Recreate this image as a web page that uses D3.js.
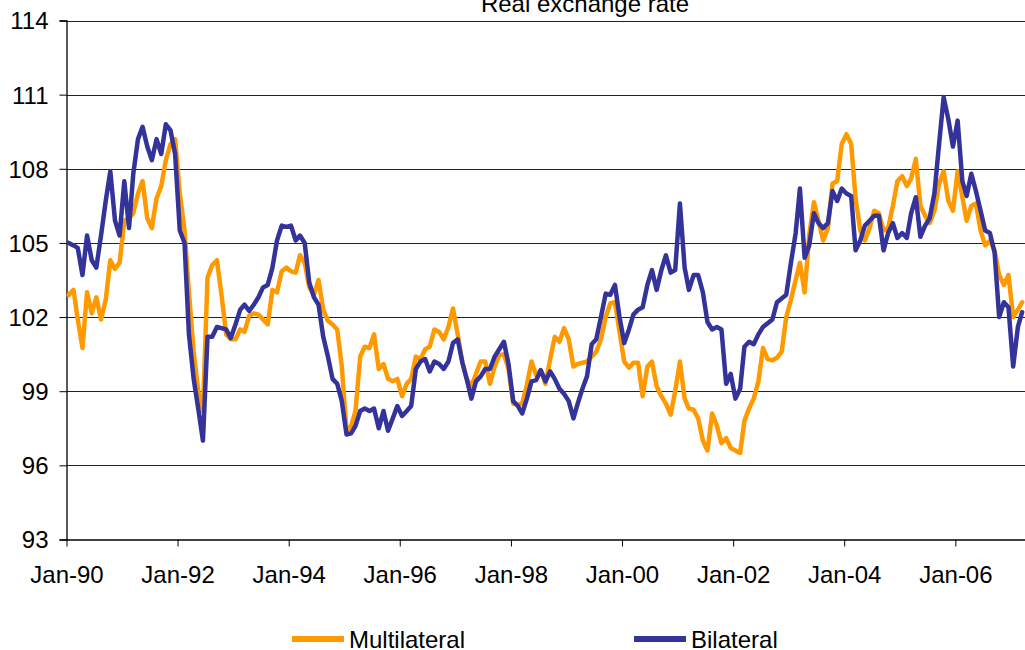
<!DOCTYPE html>
<html>
<head>
<meta charset="utf-8">
<script src="https://cdn.jsdelivr.net/npm/d3@7/dist/d3.min.js"></script>
<style>
  html, body { margin: 0; padding: 0; background: #fff; }
  svg { display: block; font-family: "Liberation Sans", Arial, sans-serif; }
</style>
</head>
<body>
<svg id="chart" width="1025" height="650"></svg>
<script>
// ---- Data (monthly, Jan-1990 onwards) ----
const startYear = 1990;
const title = "Real exchange rate";
const seriesNames = ["Multilateral", "Bilateral"];
const seriesColors = ["#FF9900", "#333399"];
const yTickValues = [93, 96, 99, 102, 105, 108, 111, 114];
const xTickYears = [1990, 1992, 1994, 1996, 1998, 2000, 2002, 2004, 2006];

const multilateral = [
  102.9, 103.1, 101.9, 100.75, 103.0, 102.15, 102.8, 101.9, 102.7, 104.3, 103.95, 104.2,
  105.9, 106.0, 106.2, 107.0, 107.5, 106.0, 105.6, 106.8, 107.3, 108.35, 109.0, 109.2,
  107.0, 105.5, 103.0, 100.6, 99.0, 98.2, 103.6, 104.1, 104.3, 102.9, 101.3, 101.1,
  101.1, 101.5, 101.4, 102.05, 102.15, 102.1, 101.9, 101.7, 103.1, 103.0, 103.85, 104.0,
  103.85, 103.8, 104.5, 104.2, 103.2, 102.9, 103.5, 102.3, 101.85, 101.7, 101.5, 100.0,
  97.4, 97.6, 98.2, 100.4, 100.8, 100.75, 101.3, 99.9, 100.1, 99.5, 99.4, 99.5,
  98.8, 99.3, 99.5, 100.4, 100.3, 100.7, 100.8, 101.5, 101.4, 101.1, 101.6, 102.35,
  101.3, 100.15, 99.5, 99.2, 99.7, 100.2, 100.2, 99.3, 100.0, 100.45, 100.5, 99.9,
  98.5, 98.45, 98.5, 99.25, 100.2, 99.65, 99.85, 99.3, 100.3, 101.2, 101.0, 101.55,
  101.1, 100.0, 100.1, 100.15, 100.2, 100.4, 100.6, 101.1, 102.0, 102.55, 102.6, 101.4,
  100.2, 99.95, 100.15, 100.15, 98.8, 100.0, 100.2, 99.2, 98.8, 98.5, 98.05, 99.0,
  100.2, 98.7, 98.3, 98.25, 97.9, 97.0, 96.6, 98.1, 97.6, 96.9, 97.1, 96.7,
  96.6, 96.5, 97.8, 98.3, 98.7, 99.4, 100.75, 100.3, 100.25, 100.35, 100.6, 102.0,
  102.7, 103.5, 104.2, 103.0, 105.3, 106.65, 105.9, 105.1, 105.6, 107.4, 107.5, 109.0,
  109.4, 109.0, 106.8, 105.5, 105.1, 105.6, 106.3, 106.2, 105.5, 105.6, 106.5, 107.5,
  107.7, 107.3, 107.6, 108.4, 106.5, 106.1, 105.8, 106.3, 107.4, 107.9, 106.7, 106.3,
  107.9, 106.85, 105.9, 106.5, 106.6, 105.5, 104.9, 105.1, 104.7, 103.7, 103.3, 103.7,
  102.0, 102.3, 102.6
];

const bilateral = [
  105.0, 104.9, 104.8, 103.7, 105.3, 104.3, 104.0, 105.3, 106.7, 107.9, 105.9, 105.3,
  107.5, 105.6, 107.8, 109.2, 109.7, 108.9, 108.35, 109.2, 108.6, 109.8, 109.55, 108.6,
  105.5, 105.0, 101.3, 99.5, 98.3, 97.0, 101.2, 101.2, 101.6, 101.55, 101.5, 101.15,
  101.7, 102.3, 102.5, 102.25, 102.5, 102.8, 103.2, 103.3, 104.0, 105.1, 105.7, 105.65,
  105.7, 105.1, 105.3, 105.0, 103.4, 102.8, 102.5, 101.2, 100.4, 99.5, 99.3, 98.6,
  97.25, 97.3, 97.6, 98.2, 98.3, 98.2, 98.3, 97.5, 98.2, 97.4, 97.9, 98.4,
  98.0, 98.2, 98.4, 99.9, 100.2, 100.3, 99.8, 100.2, 100.1, 99.9, 100.2, 100.95,
  101.1, 100.15, 99.5, 98.7, 99.4, 99.6, 99.9, 99.9, 100.4, 100.7, 101.0, 100.1,
  98.6, 98.4, 98.1, 98.7, 99.4, 99.45, 99.85, 99.4, 99.8, 99.5, 99.1, 98.9,
  98.6, 97.9, 98.5, 99.1, 99.6, 100.9, 101.1, 102.0, 102.95, 102.9, 103.3, 102.0,
  100.95, 101.5, 102.1, 102.3, 102.4, 103.3, 103.9, 103.1, 103.9, 104.5, 103.8, 103.9,
  106.6, 104.0, 103.1, 103.7, 103.7, 103.0, 101.8, 101.5, 101.6, 101.5, 99.3, 99.7,
  98.7, 99.1, 100.8, 101.0, 100.9, 101.3, 101.6, 101.75, 101.9, 102.6, 102.75, 102.9,
  104.2, 105.4, 107.2, 104.4, 104.9, 106.2, 105.8, 105.6, 105.8, 107.1, 106.7, 107.2,
  107.0, 106.9, 104.7, 105.1, 105.7, 105.9, 106.1, 106.1, 104.7, 105.4, 105.8, 105.2,
  105.4, 105.2, 106.2, 106.85, 105.25, 105.7, 106.0, 107.0, 109.0, 110.9, 110.0, 108.9,
  109.95, 107.5, 106.9, 107.8, 107.1, 106.3, 105.5, 105.4, 104.6, 102.0, 102.6, 102.4,
  100.0, 101.6, 102.2
];

// ---- Chart ----
(function () {
  const svg = d3.select("#chart");
  const W = 1025, H = 650;
  const plotLeft = 66.5, plotTop = 20.5, plotBottom = 539.5;

  svg.append("rect").attr("width", W).attr("height", H).attr("fill", "#fff");

  const months = d3.range(multilateral.length).map(i => new Date(startYear, i, 16));

  const x = d3.scaleTime()
    .domain([new Date(startYear, 0, 1), new Date(2008, 0, 1)])
    .range([plotLeft, plotLeft + 9 * 111.1]);

  const y = d3.scaleLinear().domain([93, 114]).range([plotBottom, plotTop]);

  // gridlines
  svg.append("g")
    .selectAll("line")
    .data(yTickValues.filter(v => v > 93))
    .join("line")
    .attr("x1", plotLeft).attr("x2", W)
    .attr("y1", d => Math.round(y(d)) + 0.5).attr("y2", d => Math.round(y(d)) + 0.5)
    .attr("stroke", "#222").attr("stroke-width", 1);

  // y axis
  const yAxis = svg.append("g")
    .attr("transform", `translate(${plotLeft},0)`)
    .call(d3.axisLeft(y).tickValues(yTickValues).tickSize(7).tickPadding(11).tickFormat(d3.format("d")));
  yAxis.select(".domain").attr("stroke", "#000").attr("stroke-width", 1.3);
  yAxis.selectAll(".tick line").attr("stroke", "#000");
  yAxis.selectAll(".tick text")
    .attr("font-size", 24).attr("fill", "#000")
    .attr("font-family", "'Liberation Sans', Arial, sans-serif")
    .attr("dy", "0.35em");

  // x axis
  const xAxis = svg.append("g")
    .attr("transform", `translate(0,${plotBottom})`)
    .call(d3.axisBottom(x)
      .tickValues(xTickYears.map(yr => new Date(yr, 0, 1)))
      .tickSize(7).tickPadding(19)
      .tickFormat(d3.timeFormat("%b-%y")));
  xAxis.select(".domain").attr("d", `M${plotLeft},0.5H${W}`).attr("stroke", "#000").attr("stroke-width", 1.3);
  xAxis.selectAll(".tick line").attr("stroke", "#000");
  xAxis.selectAll(".tick text")
    .attr("font-size", 24).attr("fill", "#000")
    .attr("font-family", "'Liberation Sans', Arial, sans-serif");

  // lines
  const line = d3.line()
    .x((d, i) => x(months[i]))
    .y(d => y(d));

  const seriesData = [multilateral, bilateral];
  svg.append("g")
    .selectAll("path")
    .data(seriesData)
    .join("path")
    .attr("d", d => line(d))
    .attr("fill", "none")
    .attr("stroke", (d, i) => seriesColors[i])
    .attr("stroke-width", 4.5)
    .attr("stroke-linejoin", "round")
    .attr("stroke-linecap", "round");

  // title
  svg.append("text")
    .attr("x", 585).attr("y", 12)
    .attr("text-anchor", "middle")
    .attr("font-size", 24).attr("fill", "#000")
    .text(title);

  // legend
  const legendX = [292, 634];
  const legend = svg.append("g")
    .selectAll("g")
    .data(seriesNames)
    .join("g")
    .attr("transform", (d, i) => `translate(${legendX[i]},639)`);
  legend.append("line")
    .attr("x1", 0).attr("x2", 52).attr("y1", 0).attr("y2", 0)
    .attr("stroke", (d, i) => seriesColors[i]).attr("stroke-width", 6);
  legend.append("text")
    .attr("x", 57).attr("y", 8.5)
    .attr("font-size", 24).attr("fill", "#000")
    .text(d => d);
})();
</script>
</body>
</html>
